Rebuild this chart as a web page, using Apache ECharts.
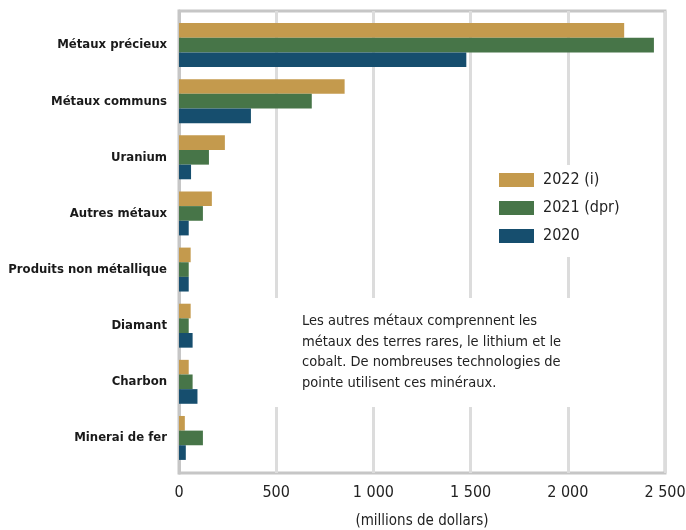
<!DOCTYPE html>
<html>
<head>
<meta charset="utf-8">
<script src="https://cdn.jsdelivr.net/npm/echarts@6/dist/echarts.min.js"></script>
<style>
  html, body { margin: 0; padding: 0; background: #fff; }
  #chart { width: 686px; height: 530px; }
</style>
</head>
<body>
<div id="chart"></div>
<script>
var categories = ['Métaux précieux', 'Métaux communs', 'Uranium', 'Autres métaux',
  'Produits non métallique', 'Diamant', 'Charbon', 'Minerai de fer']
var v2022 = [2290, 852, 236, 169, 60, 60, 50, 30]
var v2021 = [2443, 683, 154, 123, 50, 50, 70, 123]
var v2020 = [1478, 370, 62, 50, 50, 70, 95, 35]
var xTicks = [0, 500, 1000, 1500, 2000, 2500]

var narrow = '"DejaVu Sans Condensed", "Liberation Sans Narrow", "Liberation Sans", sans-serif'

var myChart = echarts.init(document.getElementById('chart'))

// série commune
function barSerie (name, data, color) {
  return {
    name: name,
    type: 'bar',
    data: data,
    xAxisIndex: 1,
    yAxisIndex: 1,
    barGap: '0%',
    barCategoryGap: '21.7%',
    itemStyle: { color: color },
    z: 3
  }
}

myChart.setOption({
  animation: false,
  grid: [
    // cadre + grille
    {
      left: 179,
      right: 21,
      top: 11,
      bottom: 57,
      show: true,
      borderColor: '#c6c6c6',
      borderWidth: 3,
      backgroundColor: 'transparent',
      outerBoundsMode: 'none'
    },
    // barres
    {
      left: 179,
      right: 21,
      top: 17,
      bottom: 64,
      outerBoundsMode: 'none'
    }
  ],
  legend: {
    orient: 'vertical',
    left: 499,
    top: 172,
    itemWidth: 35,
    itemHeight: 14,
    itemGap: 12,
    icon: 'rect',
    padding: 0,
    textStyle: { fontFamily: narrow, fontSize: 16, color: '#222', padding: [0, 0, 0, 4] },
    data: ['2022 (i)', '2021 (dpr)', '2020']
  },
  xAxis: [
    {
      gridIndex: 0,
      type: 'value',
      min: 0,
      max: 2500,
      interval: 500,
      name: '(millions de dollars)',
      nameLocation: 'middle',
      nameGap: 41,
      nameTextStyle: { fontFamily: narrow, fontSize: 15, color: '#222' },
      axisLine: { show: false },
      axisTick: { show: false },
      axisLabel: {
        fontFamily: narrow,
        fontSize: 16,
        color: '#222',
        margin: 12,
        formatter: function (v) {
          return xTicks.indexOf(v) >= 0 ? String(v).replace(/\B(?=(\d{3})+(?!\d))/g, ' ') : ''
        }
      },
      splitLine: { lineStyle: { color: '#dcdcdc', width: 3 } }
    },
    {
      gridIndex: 1,
      type: 'value',
      min: 0,
      max: 2500,
      show: false
    }
  ],
  yAxis: [
    {
      gridIndex: 0,
      type: 'value',
      axisLine: { show: true, lineStyle: { color: '#c6c6c6', width: 3 } },
      axisTick: { show: false },
      axisLabel: { show: false },
      splitLine: { show: false }
    },
    {
      gridIndex: 1,
      type: 'category',
      inverse: true,
      data: categories,
      axisLine: { show: false },
      axisTick: { show: false },
      axisLabel: {
        fontFamily: narrow,
        fontSize: 13,
        fontWeight: 'bold',
        color: '#1a1a1a',
        margin: 12
      }
    }
  ],
  graphic: [
    {
      type: 'rect',
      shape: { x: 481, y: 165, width: 180, height: 92 },
      style: { fill: '#fff' },
      z: 1
    },
    {
      type: 'rect',
      shape: { x: 268, y: 298, width: 320, height: 109 },
      style: { fill: '#fff' },
      z: 1
    },
    {
      type: 'text',
      left: 302,
      top: 311,
      z: 2,
      style: {
        text: 'Les autres métaux comprennent les\nmétaux des terres rares, le lithium et le\ncobalt. De nombreuses technologies de\npointe utilisent ces minéraux.',
        fontFamily: narrow,
        fontSize: 14.5,
        lineHeight: 20.5,
        fill: '#222'
      }
    }
  ],
  series: [
    barSerie('2022 (i)', v2022, '#c49a4d'),
    barSerie('2021 (dpr)', v2021, '#477548'),
    barSerie('2020', v2020, '#164e6e')
  ]
})
</script>
</body>
</html>
